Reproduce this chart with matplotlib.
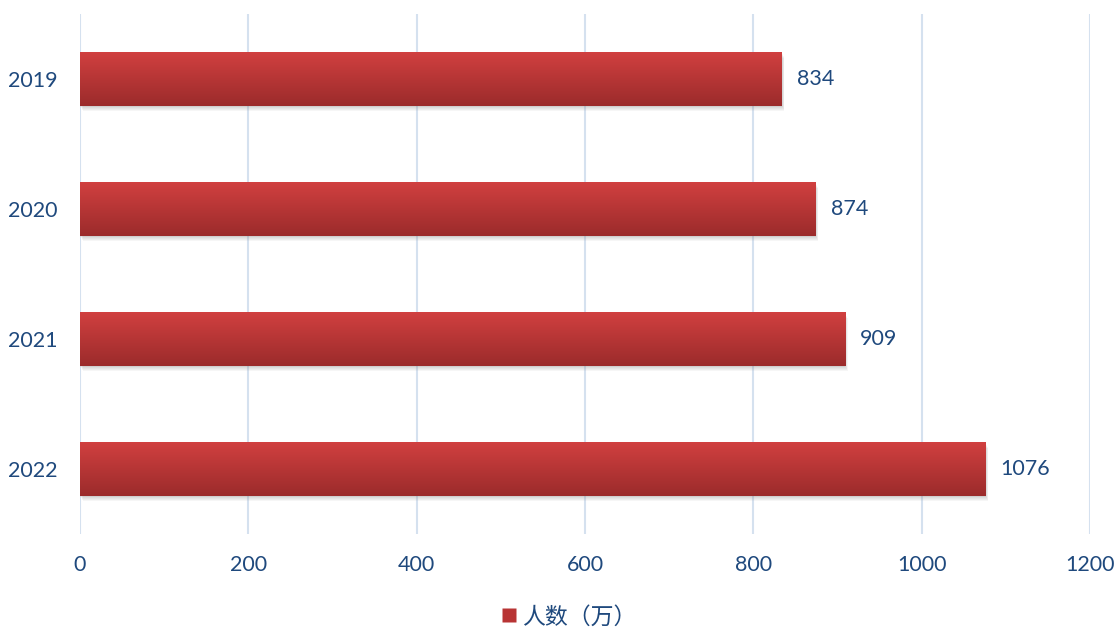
import matplotlib
matplotlib.use("Agg")
import matplotlib.pyplot as plt
import numpy as np
from matplotlib.patches import Rectangle
from matplotlib.lines import Line2D

years = ["2019", "2020", "2021", "2022"]
values = [834, 874, 909, 1076]
xticks = [0, 200, 400, 600, 800, 1000, 1200]
legend_label = "人数（万）"

plt.rcParams['font.family'] = ['Lato', 'Noto Sans CJK SC', 'DejaVu Sans']
text_color = "#1F497D"

fig = plt.figure(figsize=(11.18, 6.28), dpi=100)
ax = fig.add_axes([80/1118, 1-534/628, 1010/1118, 520/628])

pos = np.arange(len(years))
bh = 0.41
bars = ax.barh(pos, values, height=bh, color="#B83434", zorder=3)

ax.set_xlim(0, 1200)
ax.set_ylim(len(years) - 0.5, -0.5)

# shadows
for b in bars:
    x0, y0 = b.get_x(), b.get_y()
    w, h = b.get_width(), b.get_height()
    for k in range(6):
        off = 1 + k * 1.0
        ax.add_patch(Rectangle((x0 + off * 0.5, y0 + off * 0.007), w, h,
                               facecolor="gray", edgecolor="none",
                               alpha=0.07, zorder=2))

# gradients
grad = np.linspace(0, 1, 256).reshape(-1, 1)
top = np.array([0.82, 0.25, 0.25])
bot = np.array([0.61, 0.17, 0.17])
img = top[None, None, :] * (1 - grad[:, :, None]) + bot[None, None, :] * grad[:, :, None]
for b in bars:
    x0, y0 = b.get_x(), b.get_y()
    w, h = b.get_width(), b.get_height()
    im = ax.imshow(img, extent=(x0, x0 + w, y0 + h, y0), aspect='auto',
                   zorder=4, origin='upper')
    im.set_clip_path(b)
ax.set_xlim(0, 1200)
ax.set_ylim(len(years) - 0.5, -0.5)

for p, v in zip(pos, values):
    ax.text(v + 18, p, str(v), va='center', ha='left', fontsize=15.5, color=text_color, zorder=5)

ax.set_xticks(xticks)
ax.set_xticklabels([str(t) for t in xticks], fontsize=15.5, color=text_color)
ax.set_yticks(pos)
ax.set_yticklabels(years, fontsize=15.5, color=text_color)
ax.tick_params(axis='both', length=0)
ax.tick_params(axis='x', pad=15)
ax.tick_params(axis='y', pad=16)
ax.grid(axis='x', color="#D5E1EF", linewidth=1.5, zorder=0)
ax.set_axisbelow(True)
for s in ax.spines.values():
    s.set_visible(False)

handle = Line2D([], [], marker='s', linestyle='none', markersize=10,
                markerfacecolor="#B83434", markeredgecolor="none")
fig.legend([handle], [legend_label], loc='center', bbox_to_anchor=(0.508, 1 - 617/628),
           frameon=False, labelcolor=text_color, handlelength=0.8, handletextpad=0.15,
           prop={'family': ['Noto Sans CJK SC', 'DejaVu Sans'], 'size': 16.5})

fig.savefig("out.png", dpi=100)
